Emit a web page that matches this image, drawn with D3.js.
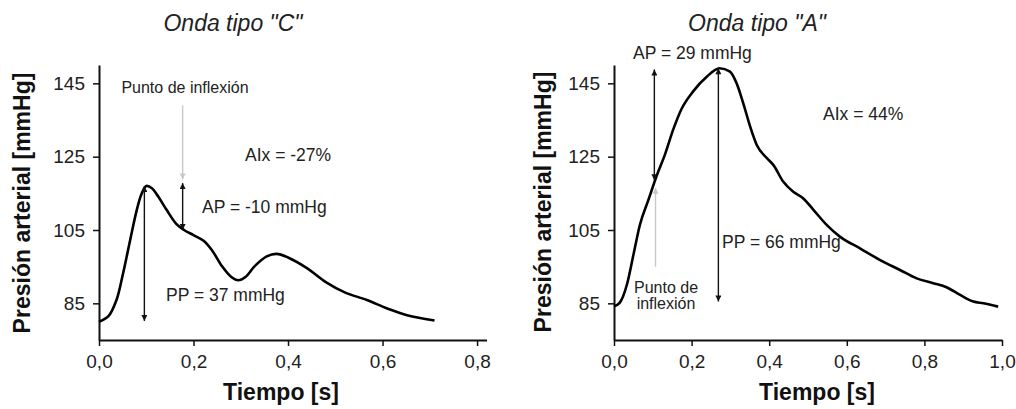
<!DOCTYPE html>
<html><head><meta charset="utf-8">
<script src="https://cdn.jsdelivr.net/npm/d3@7"></script>
<style>body{margin:0;background:#fff}svg{display:block}text{font-family:"Liberation Sans",Arial,sans-serif}</style>
</head><body>
<svg id="c" width="1016" height="409"></svg>
<script>
// ---- data ----
const timeC = [0, 0.02, 0.037, 0.051, 0.066, 0.08, 0.09, 0.1, 0.112, 0.125, 0.143, 0.164, 0.18, 0.2, 0.222, 0.24, 0.26, 0.28, 0.295, 0.31, 0.33, 0.355, 0.376, 0.4, 0.44, 0.48, 0.52, 0.567, 0.61, 0.65, 0.71];
const pressC = [80, 81.5, 85.9, 93.2, 102.3, 110.5, 114.8, 117, 116.4, 114.2, 110.5, 106.6, 105, 103.6, 102, 99.3, 95.2, 92.2, 91.3, 92.2, 95.2, 97.8, 98.5, 97.5, 94.6, 90.8, 88, 85.9, 83.6, 81.8, 80.3];
const timeA = [0, 0.015, 0.033, 0.05, 0.067, 0.088, 0.11, 0.131, 0.153, 0.174, 0.204, 0.239, 0.272, 0.299, 0.316, 0.333, 0.351, 0.368, 0.394, 0.411, 0.436, 0.462, 0.488, 0.514, 0.548, 0.582, 0.634, 0.686, 0.737, 0.78, 0.823, 0.857, 0.892, 0.926, 0.952, 0.99];
const pressA = [84.2, 85.2, 90.0, 98.2, 106.5, 113.0, 119.8, 125.5, 132.5, 138.0, 142.8, 146.8, 149.1, 148.2, 145, 139.6, 133.2, 128.2, 124.6, 122.7, 118.2, 115.4, 113.6, 110.5, 106.4, 103.2, 100, 96.8, 94.1, 91.8, 90.5, 89.4, 87.3, 85.5, 85, 84.1];
const yTicks = [85, 105, 125, 145];
const xTicksC = [0, 0.2, 0.4, 0.6, 0.8];
const xTicksA = [0, 0.2, 0.4, 0.6, 0.8, 1.0];
const titles = ['Onda tipo "C"', 'Onda tipo "A"'];
// annotation arrows in data units: [t, from, to]
const ppC = [0.096, 117, 80.2], apC = [0.177, 117.8, 105], infC = [0.177, 139, 118.8];
const ppA = [0.269, 149.1, 85.5], apA = [0.104, 148.8, 118.6], infA = [0.107, 95, 116.5];

const svg = d3.select('#c');
const defs = svg.append('defs');
function mk(id, color) {
  defs.append('marker').attr('id', id).attr('viewBox', '0 0 10 10').attr('refX', 10).attr('refY', 5)
    .attr('markerWidth', 7).attr('markerHeight', 6).attr('markerUnits', 'userSpaceOnUse').attr('orient', 'auto-start-reverse')
    .append('path').attr('d', 'M0,0L10,5L0,10z').attr('fill', color);
}
mk('ab', '#111'); mk('ag', '#c8c8c8');

function panel(o) {
  const x = d3.scaleLinear().domain(o.xd).range(o.xr);
  const y = d3.scaleLinear().domain([75, 150]).range([340, 65]);
  const g = svg.append('g');
  const fmt = d => d3.format('.1f')(d).replace('.', ',');
  const ax = g.append('g').attr('transform', 'translate(0,340)')
    .call(d3.axisBottom(x).tickValues(o.xt).tickSize(6).tickSizeOuter(0).tickFormat(fmt));
  const ay = g.append('g').attr('transform', `translate(${o.xr[0]},0)`)
    .call(d3.axisLeft(y).tickValues(yTicks).tickSize(6).tickSizeOuter(0));
  [ax, ay].forEach(a => {
    a.select('.domain').attr('stroke', '#111').attr('stroke-width', 2);
    a.selectAll('.tick line').attr('stroke', '#111').attr('stroke-width', 1.5);
    a.selectAll('.tick text').attr('fill', '#222').style('font-size', '19px');
  });
  ax.selectAll('.tick text').attr('y', 28).attr('dy', 0);
  ay.selectAll('.tick text').attr('x', -14);

  g.append('path').datum(o.t.map((t, i) => [t, o.p[i]]))
    .attr('d', d3.line().x(d => x(d[0])).y(d => y(d[1])).curve(o.curve))
    .attr('fill', 'none').attr('stroke', '#000').attr('stroke-width', 2.6).attr('stroke-linejoin', 'round');

  function arrow(a, both, col, mid) {
    const l = g.append('line').attr('x1', x(a[0])).attr('x2', x(a[0])).attr('y1', y(a[1])).attr('y2', y(a[2]))
      .attr('stroke', col).attr('stroke-width', 1.4).attr('marker-end', `url(#${mid})`);
    if (both) l.attr('marker-start', `url(#${mid})`);
  }
  arrow(o.pp, true, '#111', 'ab');
  arrow(o.ap, true, '#111', 'ab');
  arrow(o.inf, false, '#c8c8c8', 'ag');

  g.append('text').attr('x', o.titleX).attr('y', 31).attr('text-anchor', 'middle')
    .style('font-size', '23px').style('font-style', 'italic').attr('fill', '#222').text(o.title);
  g.append('text').attr('x', o.xlabX).attr('y', 400).attr('text-anchor', 'middle')
    .style('font-size', '23px').style('font-weight', 'bold').attr('fill', '#111').text('Tiempo [s]');
  g.append('text').attr('transform', `translate(${o.ylabX},${o.ylabY}) rotate(-90)`).attr('text-anchor', 'middle')
    .style('font-size', '23px').style('font-weight', 'bold').attr('fill', '#111').text('Presión arterial [mmHg]');
  o.labels.forEach(L => {
    const t = g.append('text').attr('x', L[0]).attr('y', L[1]).attr('text-anchor', L[3] || 'start')
      .style('font-size', (L[4] || 17.5) + 'px').attr('fill', '#222');
    L[2].split('\n').forEach((s, i) => t.append('tspan').attr('x', L[0]).attr('dy', i ? '1.0em' : 0).text(s));
  });
}

panel({xd: [0, 0.82], xr: [99, 486.5], xt: xTicksC, t: timeC, p: pressC, pp: ppC, ap: apC, inf: infC,
  curve: d3.curveCatmullRom.alpha(0.5),
  title: titles[0], titleX: 233, xlabX: 281, ylabX: 30, ylabY: 203,
  labels: [[185, 93, 'Punto de inflexión', 'middle', 16], [245, 161, 'AIx = -27%'], [202, 213, 'AP = -10 mmHg'], [166, 301, 'PP = 37 mmHg']]});
panel({xd: [0, 1], xr: [614, 1002], xt: xTicksA, t: timeA, p: pressA, pp: ppA, ap: apA, inf: infA,
  curve: d3.curveMonotoneX,
  title: titles[1], titleX: 757, xlabX: 817, ylabX: 551, ylabY: 202,
  labels: [[666, 293, 'Punto de\ninflexión', 'middle', 16], [823, 120, 'AIx = 44%'], [633, 59, 'AP = 29 mmHg'], [722, 248, 'PP = 66 mmHg']]});
</script>
</body></html>
